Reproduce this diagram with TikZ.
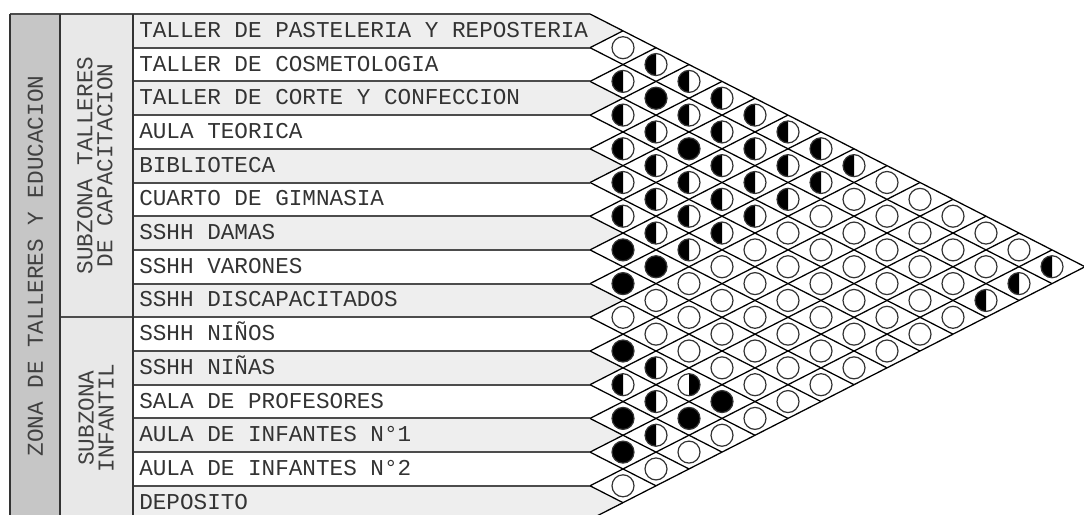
\documentclass[tikz,border=0pt]{standalone}
\usepackage{fontspec}
\setmonofont{Liberation Mono}
\usetikzlibrary{calc}

% one relation mark: e empty, f full, h left half, r right half
\newcommand{\relsym}[2]{%
  \if f#1\filldraw[relcirc,fill=black] (#2) circle[radius=8.25pt];\fi
  \if e#1\draw[relcirc] (#2) circle[radius=8.25pt];\fi
  \if h#1\fill[black] (#2) ++(0pt,8.25pt) arc[start angle=90,end angle=270,radius=8.25pt] -- cycle;
    \draw[relcirc] (#2) circle[radius=8.25pt];\fi
  \if r#1\fill[black] (#2) ++(0pt,8.25pt) arc[start angle=90,end angle=-90,radius=8.25pt] -- cycle;
    \draw[relcirc] (#2) circle[radius=8.25pt];\fi
}

\begin{document}
\begin{tikzpicture}[x=0.75pt,y=-0.75pt,
  font=\ttfamily\fontsize{17}{15}\selectfont,
  rowline/.style={draw=black!70,line width=1.5pt},
  colline/.style={draw=black!80,line width=1.2pt},
  gridline/.style={draw=black,line width=0.95pt},
  relcirc/.style={draw=black!80,line width=0.9pt},
  roomtext/.style={anchor=base west,inner sep=0pt,text=black!80},
  zonetext/.style={rotate=90,align=center,inner sep=0pt,text=black!75}
]
  \useasboundingbox (0,0) rectangle (1084,514);
  \clip (0,0) rectangle (1084,514);

  % zone columns
  \fill[gray!45] (10,14) rectangle (60,520);
  \fill[gray!18] (60,14) rectangle (133,520);

  % shaded rows with pointed ends
  \foreach \i in {1,3,...,15}
    \fill[gray!13] (133,{14+(\i-1)*33.7}) -- (590,{14+(\i-1)*33.7})
      -- (623,{14+(\i-0.5)*33.7}) -- (590,{14+\i*33.7}) -- (133,{14+\i*33.7}) -- cycle;

  % diamond grid
  \foreach \m in {0,...,15} {
    \draw[gridline] (590,{14+\m*33.7}) -- ++({33*(15-\m)},{16.85*(15-\m)});
    \draw[gridline] (590,{14+\m*33.7}) -- ++({33*\m},{-16.85*\m});
  }

  % row lines and columns
  \foreach \m in {1,...,15}
    \draw[rowline] (133,{14+\m*33.7}) -- (590,{14+\m*33.7});
  \draw[rowline] (10,14) -- (590,14);
  \draw[rowline] (60,{14+9*33.7}) -- (133,{14+9*33.7});
  \foreach \x in {10,60,133}
    \draw[colline] (\x,14) -- (\x,520);

  % room names
  \foreach \name [count=\i] in {TALLER DE PASTELERIA Y REPOSTERIA,TALLER DE COSMETOLOGIA,
      TALLER DE CORTE Y CONFECCION,AULA TEORICA,BIBLIOTECA,CUARTO DE GIMNASIA,SSHH DAMAS,
      SSHH VARONES,SSHH DISCAPACITADOS,SSHH NIÑOS,SSHH NIÑAS,SALA DE PROFESORES,
      AULA DE INFANTES N°1,AULA DE INFANTES N°2,DEPOSITO}
    \node[roomtext] (room\i) at (139,{14+(\i-0.5)*33.7+6.5}) {\name};

  % zone names
  \node[zonetext] (zone) at (35.5,266) {ZONA DE TALLERES Y EDUCACION};
  \node[zonetext] (subtaller) at (95,165.5) {SUBZONA TALLERES\\DE CAPACITACION};
  \node[zonetext] (subinfantil) at (96,418) {SUBZONA\\INFANTIL};

  % relations, row i against rows i+1 ... 15
  \foreach \i/\codes in {1/{e,h,h,h,h,h,h,h,e,e,e,e,e,h},2/{h,f,h,h,h,h,h,e,e,e,e,e,h},
      3/{h,h,f,h,h,h,e,e,e,e,e,h},4/{h,h,h,h,h,e,e,e,e,e,e},5/{h,h,h,h,e,e,e,e,e,e},
      6/{h,h,h,e,e,e,e,e,e},7/{f,f,e,e,e,e,e,e},8/{f,e,e,e,e,e,e},9/{e,e,e,e,e,e},
      10/{f,h,r,f,e},11/{h,h,f,e},12/{f,h,e},13/{f,e},14/{e}}
    \foreach \c [count=\k] in \codes
      \relsym{\c}{{590+33*\k},{14+16.85*(2*\i+\k-1)}};
\end{tikzpicture}
\end{document}
